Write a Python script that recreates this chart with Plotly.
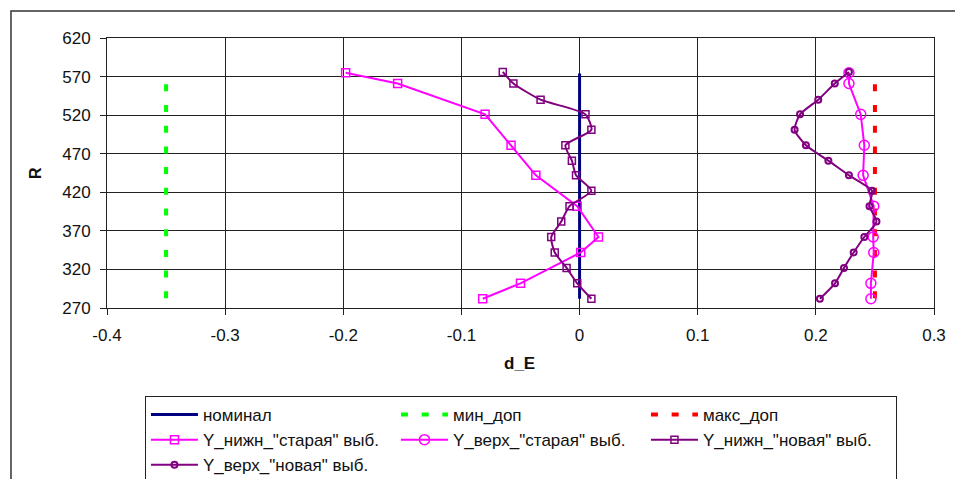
import plotly.graph_objects as go

# Radius values (R) for the two samples
r_old = [575, 561, 521, 481, 442, 402, 362, 342, 302, 282]
r_new = [576, 561, 540, 521, 501, 481, 461, 442, 422, 402, 382, 362, 342, 322, 302, 282]

# d_E values, "старая" (old) sample
old_lower = [-0.198, -0.154, -0.080, -0.058, -0.037, -0.002, 0.016, 0.001, -0.050, -0.082]
old_upper = [0.228, 0.228, 0.238, 0.241, 0.240, 0.249, 0.2485, 0.249, 0.2466, 0.2466]

# d_E values, "новая" (new) sample
new_lower = [-0.065, -0.056, -0.033, 0.005, 0.010, -0.012, -0.0065, -0.003,
             0.010, -0.0085, -0.0155, -0.024, -0.021, -0.011, -0.002, 0.010]
new_upper = [0.228, 0.216, 0.202, 0.1866, 0.182, 0.1916, 0.2106, 0.228,
             0.2475, 0.2454, 0.2513, 0.2410, 0.232, 0.2238, 0.2162, 0.2034]

# Nominal and tolerance limits
nominal_x = [0, 0]
nominal_r = [574, 282]
min_x = [-0.35, -0.35]
max_x = [0.25, 0.25]
limit_r = [560, 280]

# Axis ticks (labels use a plain hyphen for negatives)
x_ticks = [-0.4, -0.3, -0.2, -0.1, 0, 0.1, 0.2, 0.3]
x_tick_labels = ["-0.4", "-0.3", "-0.2", "-0.1", "0", "0.1", "0.2", "0.3"]
y_ticks = [270, 320, 370, 420, 470, 520, 570, 620]

FONT = "Liberation Sans, Arial, sans-serif"

fig = go.Figure()

fig.add_trace(go.Scatter(x=nominal_x, y=nominal_r, mode="lines", name="номинал",
                         line=dict(color="#000080", width=3)))
fig.add_trace(go.Scatter(x=min_x, y=limit_r, mode="lines", name="мин_доп",
                         line=dict(color="#00FF00", width=4, dash="7px,13.7px")))
fig.add_trace(go.Scatter(x=max_x, y=limit_r, mode="lines", name="макс_доп",
                         line=dict(color="#FF0000", width=4, dash="7px,13.7px")))
fig.add_trace(go.Scatter(x=old_lower, y=r_old, mode="lines+markers",
                         name='Y_нижн_"старая" выб.',
                         line=dict(color="#FF00FF", width=2),
                         marker=dict(symbol="square-open", size=8, color="#FF00FF",
                                     line=dict(width=1.5, color="#FF00FF"))))
fig.add_trace(go.Scatter(x=old_upper, y=r_old, mode="lines+markers",
                         name='Y_верх_"старая" выб.',
                         line=dict(color="#FF00FF", width=2),
                         marker=dict(symbol="circle-open", size=10, color="#FF00FF",
                                     line=dict(width=1.5, color="#FF00FF"))))
fig.add_trace(go.Scatter(x=new_lower, y=r_new, mode="lines+markers",
                         name='Y_нижн_"новая" выб.',
                         line=dict(color="#800080", width=2, shape="spline", smoothing=0.6),
                         marker=dict(symbol="square-open", size=7, color="#800080",
                                     line=dict(width=1.5, color="#800080"))))
fig.add_trace(go.Scatter(x=new_upper, y=r_new, mode="lines+markers",
                         name='Y_верх_"новая" выб.',
                         line=dict(color="#800080", width=2, shape="spline", smoothing=0.6),
                         marker=dict(symbol="circle-open", size=6, color="#800080",
                                     line=dict(width=2, color="#800080"))))

axis_common = dict(
    showgrid=True, gridcolor="#222", gridwidth=1,
    showline=True, linecolor="#222", linewidth=1, mirror=True,
    ticks="outside", ticklen=6, tickcolor="#222", tickwidth=1,
    zeroline=False,
    tickfont=dict(family=FONT, size=17, color="#111"),
    ticklabelstandoff=6,
    tickmode="array",
)

fig.update_layout(
    width=955, height=479,
    margin=dict(l=107, r=21, t=38, b=171, autoexpand=False),
    paper_bgcolor="white", plot_bgcolor="white",
    showlegend=True,
    xaxis=dict(range=[-0.4, 0.3], tickvals=x_ticks, ticktext=x_tick_labels, **axis_common),
    yaxis=dict(range=[270, 620], tickvals=y_ticks, **axis_common),
    legend=dict(
        orientation="h", x=0.0459, y=-0.326, xanchor="left", yanchor="top",
        entrywidth=188, entrywidthmode="pixels",
        bordercolor="#222", borderwidth=1, bgcolor="white",
        font=dict(family=FONT, size=17, color="#111"),
        itemwidth=47, tracegroupgap=0,
    ),
    annotations=[
        dict(text="<b>R</b>", x=-0.0865, y=0.502, xref="paper", yref="paper",
             showarrow=False, textangle=-90, xanchor="center", yanchor="middle",
             font=dict(family=FONT, size=16, color="#111")),
        dict(text="<b>d_E</b>", x=0.4986, y=-0.207, xref="paper", yref="paper",
             showarrow=False, xanchor="center", yanchor="middle",
             font=dict(family=FONT, size=17, color="#111")),
    ],
    shapes=[
        dict(type="rect", xref="paper", yref="paper",
             x0=-0.1161, x1=1.031, y0=-0.674, y1=1.1,
             line=dict(color="#333", width=1.5), fillcolor="rgba(0,0,0,0)",
             layer="below"),
    ],
)

fig.write_html("out.html")
